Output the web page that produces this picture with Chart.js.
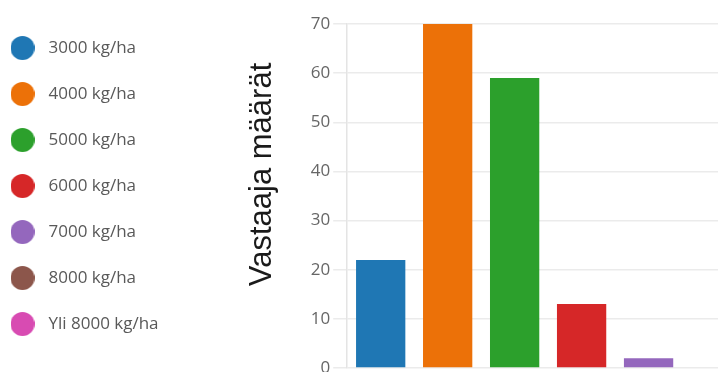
<!DOCTYPE html>
<html>
<head>
<meta charset="utf-8">
<script src="https://cdn.jsdelivr.net/npm/chart.js@4"></script>
<style>
  html, body { margin: 0; padding: 0; width: 718px; height: 372px; overflow: hidden; background: #fff; }
  #wrap { position: absolute; left: -24px; top: 0; width: 840px; height: 372px; }
</style>
</head>
<body>
<div id="wrap"><canvas id="c" width="840" height="372"></canvas></div>
<script>
// Yield classes and how many respondents chose each
const categories = ['3000 kg/ha', '4000 kg/ha', '5000 kg/ha', '6000 kg/ha', '7000 kg/ha', '8000 kg/ha', 'Yli 8000 kg/ha'];
const respondents = [22, 70, 59, 13, 2, 0, 0];
const barColors = ['#1f77b4', '#ec7108', '#2ca02c', '#d62728', '#9467bd', '#8c564b', '#d84bb2'];
const yTickValues = [0, 10, 20, 30, 40, 50, 60, 70];
const yTitle = 'Vastaaja määrät';

// Round legend markers
function dot(color) {
  const d = 24;
  const cv = document.createElement('canvas');
  cv.width = d; cv.height = d;
  const g = cv.getContext('2d');
  g.fillStyle = color;
  g.beginPath();
  g.arc(d / 2, d / 2, d / 2, 0, Math.PI * 2);
  g.fill();
  return cv;
}

Chart.defaults.font.family = "'Open Sans', 'Noto Sans', sans-serif";

new Chart(document.getElementById('c'), {
  type: 'bar',
  data: {
    labels: categories,
    datasets: [{
      label: yTitle,
      data: respondents,
      backgroundColor: barColors,
      borderWidth: 0,
      categoryPercentage: 0.8,
      barPercentage: 0.92
    }]
  },
  options: {
    responsive: false,
    animation: false,
    layout: { padding: 0 },
    plugins: {
      tooltip: { enabled: false },
      legend: {
        position: 'left',
        labels: {
          usePointStyle: true,
          pointStyleWidth: 35,
          padding: 29,
          color: '#595959',
          font: { size: 17 },
          generateLabels: (chart) => categories.map((name, i) => ({
            text: name,
            fillStyle: barColors[i],
            strokeStyle: barColors[i],
            lineWidth: 0,
            pointStyle: dot(barColors[i]),
            hidden: false,
            index: i,
            fontColor: '#595959'
          }))
        }
      }
    },
    scales: {
      x: {
        display: false
      },
      y: {
        min: yTickValues[0],
        max: yTickValues[yTickValues.length - 1],
        afterFit: (scale) => { scale.paddingTop = 24; scale.paddingBottom = 4; },
        ticks: {
          stepSize: yTickValues[1] - yTickValues[0],
          color: '#666',
          padding: 3,
          font: { size: 17 }
        },
        grid: { color: '#ebebeb', tickLength: 14, lineWidth: 1.5 },
        border: { color: '#e4e4e4', width: 1.5 },
        title: {
          display: true,
          text: '     ' + yTitle,
          color: '#1a1a1a',
          font: { family: "'Liberation Sans', Arial, sans-serif", size: 31 },
          padding: { top: 75, bottom: 27 }
        }
      }
    }
  }
});
</script>
</body>
</html>
